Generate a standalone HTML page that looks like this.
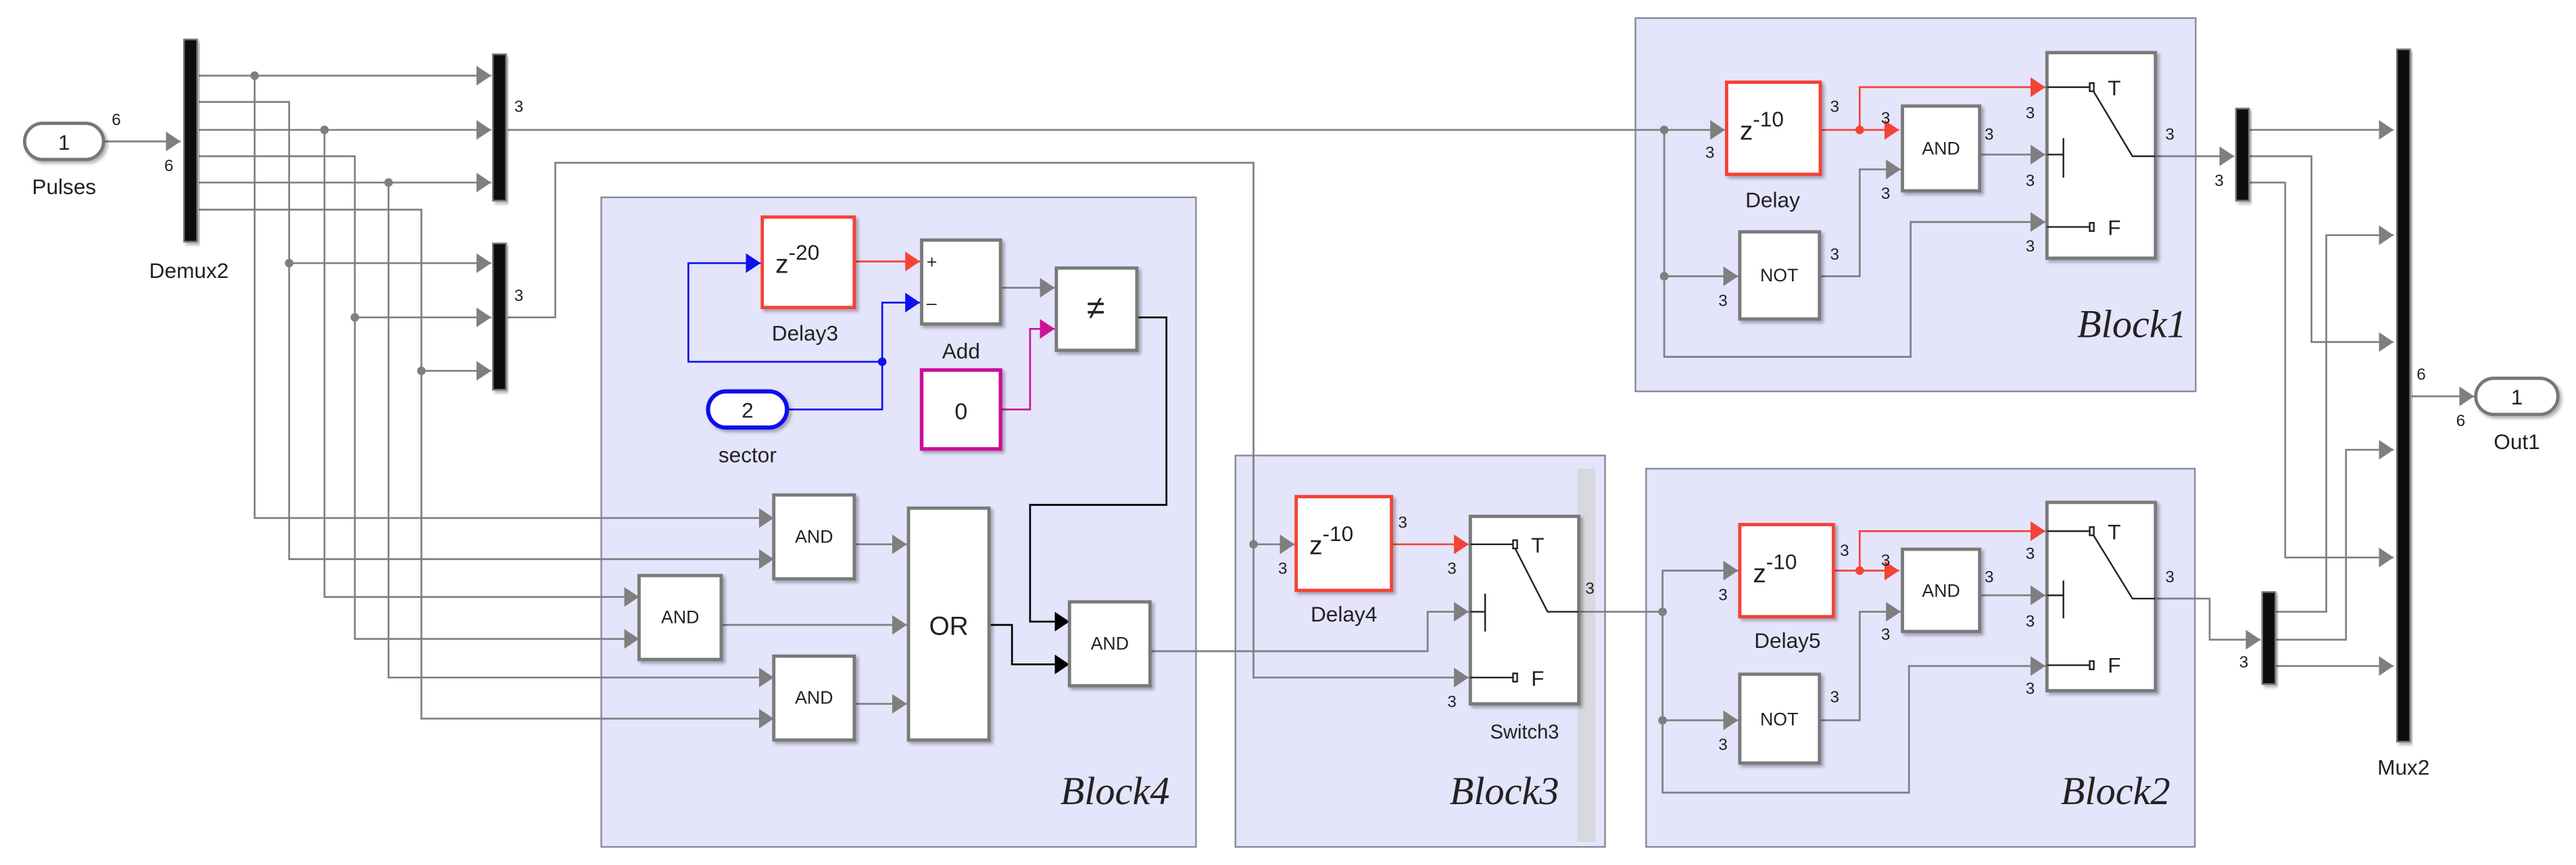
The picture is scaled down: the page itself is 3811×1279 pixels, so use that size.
<!DOCTYPE html>
<html><head><meta charset="utf-8"><style>
html,body{margin:0;padding:0;background:#fff;width:3811px;height:1279px;overflow:hidden}
svg{display:block}
text{font-family:"Liberation Sans",sans-serif;fill:#222}
.w{stroke:#7f7f7f;stroke-width:1.1;fill:none}
.blk{fill:#fff;stroke:#7a7a7a;stroke-width:2}
.sub{fill:#e4e4fb;stroke:#8a8a9a;stroke-width:1}
.bl{font-family:"Liberation Serif",serif;font-style:italic;font-size:24px;fill:#222}
.n{font-size:10px}
.bar{fill:#111;stroke:#777;stroke-width:1}
</style></head><body>
<svg width="3811" height="1279" viewBox="0 0 1568 526" preserveAspectRatio="none" xmlns="http://www.w3.org/2000/svg">
<defs>
<marker id="a" markerUnits="userSpaceOnUse" markerWidth="10" markerHeight="12" refX="9" refY="6" orient="auto"><path d="M0,0L9,6L0,12z" fill="#7f7f7f"/></marker>
<marker id="r" markerUnits="userSpaceOnUse" markerWidth="10" markerHeight="12" refX="9" refY="6" orient="auto"><path d="M0,0L9,6L0,12z" fill="#f44336"/></marker>
<marker id="b" markerUnits="userSpaceOnUse" markerWidth="10" markerHeight="12" refX="9" refY="6" orient="auto"><path d="M0,0L9,6L0,12z" fill="#1010ee"/></marker>
<marker id="m" markerUnits="userSpaceOnUse" markerWidth="10" markerHeight="12" refX="9" refY="6" orient="auto"><path d="M0,0L9,6L0,12z" fill="#cc1199"/></marker>
<marker id="k" markerUnits="userSpaceOnUse" markerWidth="10" markerHeight="12" refX="9" refY="6" orient="auto"><path d="M0,0L9,6L0,12z" fill="#000"/></marker>
<filter id="s" x="-10%" y="-10%" width="130%" height="130%"><feDropShadow dx="1.5" dy="1.5" stdDeviation="1" flood-color="#000" flood-opacity="0.3"/></filter>
</defs>

<!-- subsystem backgrounds -->
<rect class="sub" x="366" y="120" width="362" height="395"/>
<rect class="sub" x="752" y="277" width="225" height="238"/>
<rect x="960" y="285" width="11" height="227" fill="#d8d8e0"/>
<rect class="sub" x="1002" y="285" width="334" height="230"/>
<rect class="sub" x="995.5" y="11" width="341" height="227"/>
<text class="bl" x="712" y="489" text-anchor="end">Block4</text>
<text class="bl" x="949" y="489" text-anchor="end">Block3</text>
<text class="bl" x="1321" y="489" text-anchor="end">Block2</text>
<text class="bl" x="1331" y="205" text-anchor="end">Block1</text>

<!-- wires left -->
<g class="w">
<path d="M63,86H110" marker-end="url(#a)"/>
<path d="M121,46H299" marker-end="url(#a)"/>
<path d="M121,79H299" marker-end="url(#a)"/>
<path d="M121,111H299" marker-end="url(#a)"/>
<path d="M121,62H176V160H299" marker-end="url(#a)"/>
<path d="M121,95H216V193H299" marker-end="url(#a)"/>
<path d="M121,127.5H256.5V225.5H299" marker-end="url(#a)"/>
<path d="M155,46V315H471" marker-end="url(#a)"/>
<path d="M176,160V340H471" marker-end="url(#a)"/>
<path d="M197.5,79V363H389" marker-end="url(#a)"/>
<path d="M216,193V388.5H389" marker-end="url(#a)"/>
<path d="M236.5,111V412H471" marker-end="url(#a)"/>
<path d="M256.5,225.5V437H471" marker-end="url(#a)"/>
<path d="M309,79H1013V168H1058" marker-end="url(#a)"/>
<path d="M1013,79H1050" marker-end="url(#a)"/>
<path d="M1013,168V217H1163V135H1245" marker-end="url(#a)"/>
<path d="M309,193H338V99H763V412H894" marker-end="url(#a)"/>
<path d="M763,331H788" marker-end="url(#a)"/>
<path d="M520,331H552" marker-end="url(#a)"/>
<path d="M439,380H552" marker-end="url(#a)"/>
<path d="M520,428H552" marker-end="url(#a)"/>
<path d="M609,175H642" marker-end="url(#a)"/>
<path d="M700,396H869V372H894" marker-end="url(#a)"/>
<path d="M961,372H1012V347H1058" marker-end="url(#a)"/>
<path d="M1012,372V438H1058" marker-end="url(#a)"/>
<path d="M1012,438V482H1162V405H1245" marker-end="url(#a)"/>
<path d="M1107.5,168H1132V103H1157" marker-end="url(#a)"/>
<path d="M1205,94H1245" marker-end="url(#a)"/>
<path d="M1107.5,438H1132V372H1157" marker-end="url(#a)"/>
<path d="M1205,362H1245" marker-end="url(#a)"/>
<path d="M1312,95H1360" marker-end="url(#a)"/>
<path d="M1312,364H1345V389H1376" marker-end="url(#a)"/>
<path d="M1369,79H1457" marker-end="url(#a)"/>
<path d="M1369,95H1407V208H1457" marker-end="url(#a)"/>
<path d="M1369,111H1391V339H1457" marker-end="url(#a)"/>
<path d="M1385,372H1416V143H1457" marker-end="url(#a)"/>
<path d="M1385,389H1428V273.5H1457" marker-end="url(#a)"/>
<path d="M1385,405H1457" marker-end="url(#a)"/>
<path d="M1468,241H1506" marker-end="url(#a)"/>
</g>
<g fill="#7f7f7f">
<circle cx="155" cy="46" r="2.6"/><circle cx="176" cy="160" r="2.6"/><circle cx="197.5" cy="79" r="2.6"/>
<circle cx="216" cy="193" r="2.6"/><circle cx="236.5" cy="111" r="2.6"/><circle cx="256.5" cy="225.5" r="2.6"/>
<circle cx="1013" cy="79" r="2.6"/><circle cx="1013" cy="168" r="2.6"/><circle cx="763" cy="331" r="2.6"/>
<circle cx="1012" cy="372" r="2.6"/><circle cx="1012" cy="438" r="2.6"/>
</g>
<!-- red -->
<g stroke="#f44336" stroke-width="1.1" fill="none">
<path d="M520,159H560" marker-end="url(#r)"/>
<path d="M1108,79H1156" marker-end="url(#r)"/>
<path d="M1132,79V53H1245" marker-end="url(#r)"/>
<path d="M1116,347H1156" marker-end="url(#r)"/>
<path d="M1132,347V323H1245" marker-end="url(#r)"/>
<path d="M847,331H894" marker-end="url(#r)"/>
</g>
<circle cx="1132" cy="79" r="2.6" fill="#f44336"/><circle cx="1132" cy="347" r="2.6" fill="#f44336"/>
<!-- blue -->
<g stroke="#1010ee" stroke-width="1.1" fill="none">
<path d="M479,249H537V184H560" marker-end="url(#b)"/>
<path d="M537,220H419V160H463" marker-end="url(#b)"/>
</g>
<circle cx="537" cy="220" r="2.6" fill="#1010ee"/>
<path d="M609,249H627V200H642" stroke="#cc1199" stroke-width="1.1" fill="none" marker-end="url(#m)"/>
<g stroke="#000" stroke-width="1.1" fill="none">
<path d="M692,193H710V307H627V378H651" marker-end="url(#k)"/>
<path d="M602,380H616V404H651" marker-end="url(#k)"/>
</g>

<!-- bars -->
<rect class="bar" x="112" y="24" width="8" height="123" filter="url(#s)"/>
<rect class="bar" x="300" y="33" width="8" height="89" filter="url(#s)"/>
<rect class="bar" x="300" y="148" width="8" height="89" filter="url(#s)"/>
<rect class="bar" x="1361" y="66" width="8" height="56" filter="url(#s)"/>
<rect class="bar" x="1377" y="360" width="8" height="56" filter="url(#s)"/>
<rect class="bar" x="1459" y="30" width="8" height="421" filter="url(#s)"/>

<!-- ports -->
<rect x="15" y="75" width="48" height="22" rx="11" fill="#fff" stroke="#777" stroke-width="2" filter="url(#s)"/>
<text x="39" y="91" font-size="13" text-anchor="middle">1</text>
<text x="39" y="118" font-size="13" text-anchor="middle">Pulses</text>
<rect x="431" y="238" width="48" height="22" rx="11" fill="#fff" stroke="#1010ee" stroke-width="2.5" filter="url(#s)"/>
<text x="455" y="254" font-size="13" text-anchor="middle">2</text>
<text x="455" y="281" font-size="13" text-anchor="middle">sector</text>
<rect x="1507" y="230" width="50" height="22" rx="11" fill="#fff" stroke="#777" stroke-width="2" filter="url(#s)"/>
<text x="1532" y="246" font-size="13" text-anchor="middle">1</text>
<text x="1532" y="273" font-size="13" text-anchor="middle">Out1</text>
<text x="115" y="169" font-size="13" text-anchor="middle">Demux2</text>
<text x="1463" y="471" font-size="13" text-anchor="middle">Mux2</text>

<!-- Block4 -->
<rect x="464" y="132" width="56" height="55" fill="#fff" stroke="#f44336" stroke-width="2" filter="url(#s)"/>
<text x="472" y="166" font-size="16">z<tspan dy="-8" font-size="13">-20</tspan></text>
<text x="490" y="207" font-size="13" text-anchor="middle">Delay3</text>
<rect class="blk" x="561" y="146" width="48" height="51" filter="url(#s)"/>
<text x="564" y="163" font-size="11">+</text><text x="564" y="188" font-size="11">–</text>
<text x="585" y="218" font-size="13" text-anchor="middle">Add</text>
<rect x="561" y="225" width="48" height="48" fill="#fff" stroke="#cc1199" stroke-width="2.2" filter="url(#s)"/>
<text x="585" y="255" font-size="14" text-anchor="middle">0</text>
<rect class="blk" x="643" y="163" width="49" height="50" filter="url(#s)"/>
<text x="667" y="194" font-size="20" text-anchor="middle">≠</text>
<rect class="blk" x="471" y="301" width="49" height="51" filter="url(#s)"/><text x="495.5" y="330" font-size="11" text-anchor="middle">AND</text>
<rect class="blk" x="389" y="350" width="50" height="51" filter="url(#s)"/><text x="414" y="379" font-size="11" text-anchor="middle">AND</text>
<rect class="blk" x="471" y="399" width="49" height="51" filter="url(#s)"/><text x="495.5" y="428" font-size="11" text-anchor="middle">AND</text>
<rect class="blk" x="553" y="309" width="49" height="141" filter="url(#s)"/><text x="577.5" y="386" font-size="16" text-anchor="middle">OR</text>
<rect class="blk" x="651" y="366" width="49" height="51" filter="url(#s)"/><text x="675.5" y="395" font-size="11" text-anchor="middle">AND</text>

<!-- Block3 -->
<rect x="789" y="302" width="58" height="57" fill="#fff" stroke="#f44336" stroke-width="2" filter="url(#s)"/>
<text x="797" y="337" font-size="16">z<tspan dy="-8" font-size="13">-10</tspan></text>
<text x="818" y="378" font-size="13" text-anchor="middle">Delay4</text>
<rect class="blk" x="895" y="314" width="66" height="114" filter="url(#s)"/>
<g stroke="#222" stroke-width="1" fill="none"><path d="M895,331H922M922,333L942,372H961M895,412H922M895,372H904M904,361V384"/><rect x="921" y="328.5" width="2.5" height="5" fill="#fff"/><rect x="921" y="409.5" width="2.5" height="5" fill="#fff"/></g>
<text x="932" y="336" font-size="13">T</text><text x="932" y="417" font-size="13">F</text>
<text x="928" y="449" font-size="12" text-anchor="middle">Switch3</text>

<!-- Block1 -->
<rect x="1051" y="50" width="57" height="56" fill="#fff" stroke="#f44336" stroke-width="2" filter="url(#s)"/>
<text x="1059" y="85" font-size="16">z<tspan dy="-8" font-size="13">-10</tspan></text>
<text x="1079" y="126" font-size="13" text-anchor="middle">Delay</text>
<rect class="blk" x="1158" y="64.5" width="47" height="51.5" filter="url(#s)"/><text x="1181.5" y="94" font-size="11" text-anchor="middle">AND</text>
<rect class="blk" x="1059" y="141" width="48.5" height="53" filter="url(#s)"/><text x="1083" y="171" font-size="11" text-anchor="middle">NOT</text>
<rect class="blk" x="1246" y="32" width="66" height="125" filter="url(#s)"/>
<g stroke="#222" stroke-width="1" fill="none"><path d="M1246,53H1273M1274,55L1298,95H1312M1246,138H1273M1246,94H1256M1256,84V108"/><rect x="1272" y="50.5" width="2.5" height="5" fill="#fff"/><rect x="1272" y="135.5" width="2.5" height="5" fill="#fff"/></g>
<text x="1283" y="58" font-size="13">T</text><text x="1283" y="143" font-size="13">F</text>

<!-- Block2 -->
<rect x="1059" y="319" width="57" height="56" fill="#fff" stroke="#f44336" stroke-width="2" filter="url(#s)"/>
<text x="1067" y="354" font-size="16">z<tspan dy="-8" font-size="13">-10</tspan></text>
<text x="1088" y="394" font-size="13" text-anchor="middle">Delay5</text>
<rect class="blk" x="1158" y="334" width="47" height="50" filter="url(#s)"/><text x="1181.5" y="363" font-size="11" text-anchor="middle">AND</text>
<rect class="blk" x="1059" y="410" width="48.5" height="54" filter="url(#s)"/><text x="1083" y="441" font-size="11" text-anchor="middle">NOT</text>
<rect class="blk" x="1246" y="305.5" width="66" height="114.5" filter="url(#s)"/>
<g stroke="#222" stroke-width="1" fill="none"><path d="M1246,323H1273M1274,325L1298,364H1312M1246,404.5H1273M1246,362H1256M1256,353V376"/><rect x="1272" y="320.5" width="2.5" height="5" fill="#fff"/><rect x="1272" y="402" width="2.5" height="5" fill="#fff"/></g>
<text x="1283" y="328" font-size="13">T</text><text x="1283" y="409" font-size="13">F</text>

<!-- dimension labels -->
<g class="n">
<text x="68" y="76">6</text><text x="100" y="104">6</text>
<text x="313" y="68">3</text><text x="313" y="183">3</text>
<text x="1038" y="96">3</text><text x="1114" y="68">3</text><text x="1145" y="75">3</text><text x="1145" y="121">3</text>
<text x="1208" y="85">3</text><text x="1233" y="72">3</text><text x="1233" y="113">3</text><text x="1233" y="153">3</text>
<text x="1114" y="158">3</text><text x="1046" y="186">3</text><text x="1318" y="85">3</text><text x="1348" y="113">3</text>
<text x="778" y="349">3</text><text x="851" y="321">3</text><text x="881" y="349">3</text><text x="881" y="430">3</text><text x="965" y="361">3</text>
<text x="1046" y="365">3</text><text x="1120" y="338">3</text><text x="1145" y="344">3</text><text x="1145" y="389">3</text>
<text x="1208" y="354">3</text><text x="1233" y="340">3</text><text x="1233" y="381">3</text><text x="1233" y="422">3</text>
<text x="1114" y="427">3</text><text x="1046" y="456">3</text><text x="1318" y="354">3</text><text x="1363" y="406">3</text>
<text x="1471" y="231">6</text><text x="1495" y="259">6</text>
</g>
</svg>
</body></html>
